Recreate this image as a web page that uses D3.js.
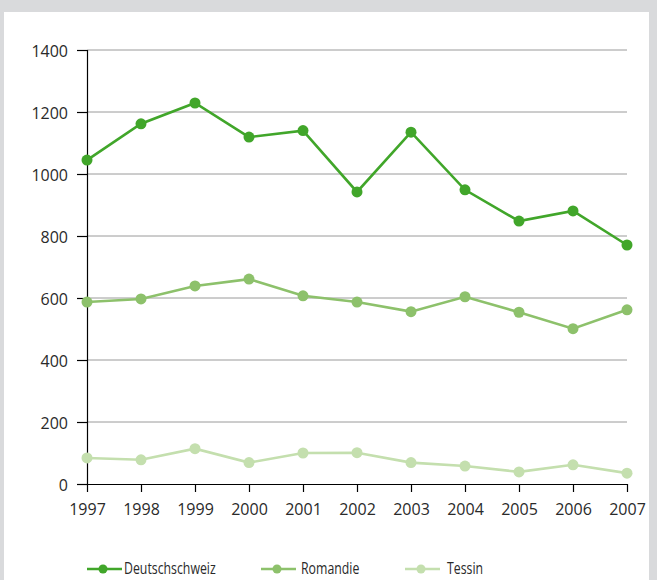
<!DOCTYPE html>
<html><head><meta charset="utf-8">
<script src="https://cdn.jsdelivr.net/npm/d3@7"></script>
<style>
html,body{margin:0;padding:0;background:#d9dadc;}
svg{display:block;}
text{font-family:"Open Sans",sans-serif;fill:#2a2a2a;}
</style></head><body>
<script>
const years = [1997,1998,1999,2000,2001,2002,2003,2004,2005,2006,2007];
const deutschschweiz = [1045,1162,1229,1119,1140,942,1135,949,848,881,771];
const romandie = [587,597,639,661,607,587,556,604,554,501,562];
const tessin = [84,78,114,69,100,101,69,58,39,62,35];
const yTicks = [0,200,400,600,800,1000,1200,1400];
const seriesNames = ["Deutschschweiz","Romandie","Tessin"];
const seriesColors = ["#41a62a","#8dc16b","#c4dfae"];
const seriesData = [deutschschweiz, romandie, tessin];

const W=657,H=580;
const svg=d3.select("body").append("svg").attr("width",W).attr("height",H);
svg.append("rect").attr("x",4).attr("y",12).attr("width",645).attr("height",H-12).attr("fill","#fff");

const x=d3.scaleLinear().domain([1997,2007]).range([87,627]);
const y=d3.scaleLinear().domain([0,1400]).range([484,50]);

// gridlines
svg.append("g").selectAll("line").data(yTicks.filter(d=>d>0)).join("line")
  .attr("x1",87).attr("x2",627).attr("y1",d=>y(d)).attr("y2",d=>y(d))
  .attr("stroke","#9a9a9a").attr("stroke-width",1);

const yAxis=svg.append("g").attr("transform","translate(87,0)")
  .call(d3.axisLeft(y).tickValues(yTicks).tickSize(10).tickPadding(9).tickFormat(d3.format("d")));
const xAxis=svg.append("g").attr("transform","translate(0,484)")
  .call(d3.axisBottom(x).tickValues(years).tickSize(8).tickPadding(11.5).tickFormat(d3.format("d")));
[yAxis,xAxis].forEach(g=>{
  g.select(".domain").attr("stroke","#000").attr("stroke-width",1.2);
  g.selectAll(".tick line").attr("stroke","#000").attr("stroke-width",1.2);
  g.selectAll("text").attr("font-size",16).attr("fill","#2a2a2a").style("font-family","'Open Sans',sans-serif");
});
yAxis.selectAll("text").attr("dy","0.4em");
xAxis.select(".domain").attr("d","M87,0.5H627");
yAxis.select(".domain").attr("d","M0.5,50V484");

const line=d3.line().x((d,i)=>x(years[i])).y(d=>y(d));
seriesData.forEach((s,k)=>{
  const g=svg.append("g");
  g.append("path").datum(s).attr("d",line).attr("fill","none")
    .attr("stroke",seriesColors[k]).attr("stroke-width",2.6);
  g.selectAll("circle").data(s).join("circle")
    .attr("cx",(d,i)=>x(years[i])).attr("cy",d=>y(d)).attr("r",5.5)
    .attr("fill",seriesColors[k]);
});

// legend
const legX=[87,261,405];
const legTextX=[124,301,447];
const lg=svg.append("g");
seriesNames.forEach((n,k)=>{
  lg.append("line").attr("x1",legX[k]).attr("x2",legX[k]+35).attr("y1",569).attr("y2",569)
    .attr("stroke",seriesColors[k]).attr("stroke-width",2.6);
  lg.append("circle").attr("cx",legX[k]+16).attr("cy",569).attr("r",4.5).attr("fill",seriesColors[k]);
  lg.append("text").attr("transform",`translate(${legTextX[k]},574) scale(0.77,1)`)
    .attr("font-size",16).text(n);
});
</script>
</body></html>
